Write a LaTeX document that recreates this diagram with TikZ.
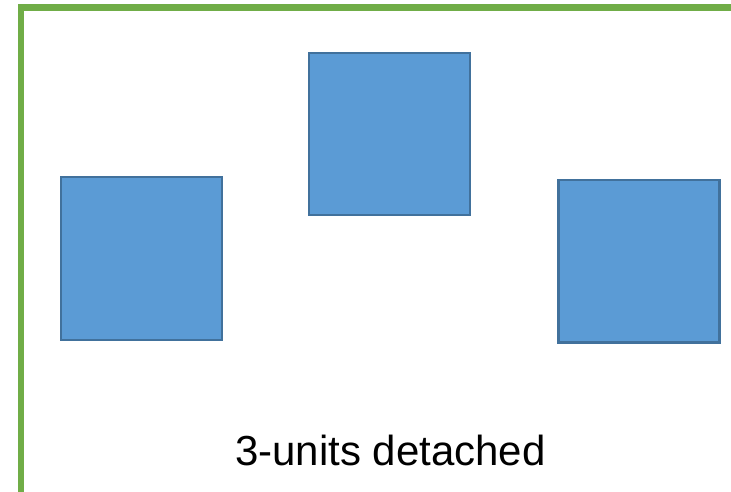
\documentclass[tikz,border=0pt]{standalone}
\usepackage{fontspec}
\setmainfont{Liberation Sans}
\definecolor{framegreen}{HTML}{70AD47}
\definecolor{boxfill}{HTML}{5B9BD5}
\definecolor{boxline}{HTML}{41719C}
\begin{document}
\begin{tikzpicture}[x=1pt,y=-1pt,
  unitbox/.style={draw=boxline,fill=boxfill,line width=2.2pt}]
\useasboundingbox (0,0) rectangle (731,491);
\fill[white] (0,0) rectangle (731,491);
\draw[framegreen,line width=6.3pt] (21,495) -- (21,7.5) -- (735,7.5);
\draw[unitbox] (61,177) rectangle (222,340);
\draw[unitbox] (309,53) rectangle (470,215);
\draw[unitbox] (558.5,180) rectangle (719.5,342.5);
\node[anchor=base,font=\fontsize{42}{50}\selectfont,inner sep=0pt] (cap) at (390.5,465) {3-units detached};
\end{tikzpicture}
\end{document}
